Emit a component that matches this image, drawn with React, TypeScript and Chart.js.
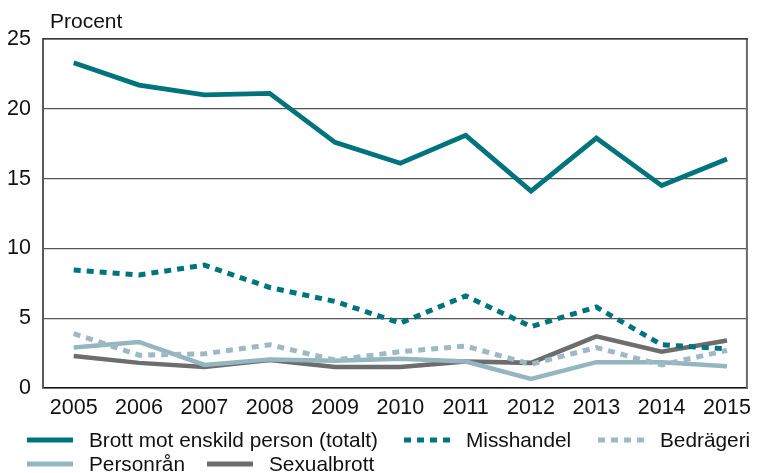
import React, { useEffect, useRef } from "react";
import { Chart, registerables } from "chart.js";

Chart.register(...registerables);

const years = [2005, 2006, 2007, 2008, 2009, 2010, 2011, 2012, 2013, 2014, 2015];
const totalt = [23.3, 21.7, 21.0, 21.1, 17.6, 16.1, 18.1, 14.1, 17.9, 14.5, 16.4];
const misshandel = [8.45, 8.1, 8.8, 7.2, 6.2, 4.65, 6.6, 4.4, 5.8, 3.1, 2.8];
const bedrageri = [3.9, 2.35, 2.45, 3.1, 2.0, 2.6, 3.0, 1.7, 2.9, 1.65, 2.7];
const personran = [2.9, 3.3, 1.65, 2.05, 1.95, 2.1, 1.9, 0.65, 1.85, 1.85, 1.55];
const sexualbrott = [2.3, 1.8, 1.5, 2.0, 1.5, 1.5, 1.9, 1.8, 3.7, 2.6, 3.4];
const yTicks = [0, 5, 10, 15, 20, 25];

const TEAL = "#00747d";
const LIGHT = "#93b6c0";
const LIGHT_DOT = "#9dbac4";
const GRAY = "#6d6d6d";
const FONT = "'Liberation Sans', Arial, Helvetica, sans-serif";

const series = [
  { label: "Brott mot enskild person (totalt)", data: totalt, color: TEAL, dash: [] as number[], width: 4.8 },
  { label: "Misshandel", data: misshandel, color: TEAL, dash: [7, 6], width: 5 },
  { label: "Bedrägeri", data: bedrageri, color: LIGHT_DOT, dash: [7, 6], width: 5 },
  { label: "Personrån", data: personran, color: LIGHT, dash: [] as number[], width: 4.5 },
  { label: "Sexualbrott", data: sexualbrott, color: GRAY, dash: [] as number[], width: 4.5 },
];

const legendPos = [
  { left: 27, top: 428 },
  { left: 404, top: 428 },
  { left: 598, top: 428 },
  { left: 27, top: 452 },
  { left: 207, top: 452 },
];

const framePlugin = {
  id: "frame",
  beforeDatasetsDraw(chart: any) {
    const { ctx, chartArea } = chart;
    ctx.save();
    ctx.strokeStyle = "#6a6a6a";
    ctx.lineWidth = 2;
    ctx.beginPath();
    ctx.moveTo(chartArea.right - 1, chartArea.top);
    ctx.lineTo(chartArea.right - 1, chartArea.bottom);
    ctx.stroke();
    ctx.strokeStyle = "#222";
    ctx.lineWidth = 1.2;
    ctx.beginPath();
    ctx.moveTo(chartArea.left, chartArea.top);
    ctx.lineTo(chartArea.right, chartArea.top);
    ctx.stroke();
    ctx.restore();
  },
  afterDraw(chart: any) {
    const { ctx } = chart;
    ctx.save();
    ctx.fillStyle = "#111";
    ctx.font = `21px ${FONT}`;
    ctx.textBaseline = "middle";
    ctx.textAlign = "left";
    ctx.fillText("Procent", 50, 22);
    ctx.restore();
  },
};

export default function App() {
  const ref = useRef<HTMLCanvasElement | null>(null);

  useEffect(() => {
    if (!ref.current) return;
    const chart = new Chart(ref.current, {
      type: "line",
      data: {
        datasets: series.map((s) => ({
          label: s.label,
          data: s.data.map((v, i) => ({ x: years[i], y: v })),
          borderColor: s.color,
          backgroundColor: s.color,
          borderWidth: s.width,
          borderDash: s.dash,
          pointRadius: 0,
          tension: 0,
          fill: false,
        })),
      },
      options: {
        animation: false,
        responsive: false,
        devicePixelRatio: 1,
        layout: { padding: { top: 39, right: 3, left: 0, bottom: 0 } },
        plugins: { legend: { display: false }, tooltip: { enabled: false } },
        scales: {
          x: {
            type: "linear",
            min: 2004.53,
            max: 2015.32,
            afterBuildTicks: (s: any) => {
              s.ticks = years.map((v) => ({ value: v }));
            },
            afterFit: (s: any) => {
              s.height = 85;
            },
            grid: { display: false, drawTicks: false },
            border: { display: true, color: "#111", width: 1.5 },
            ticks: {
              color: "#111",
              padding: 7,
              maxRotation: 0,
              autoSkip: false,
              font: { family: FONT, size: 21.5 },
              callback: (v: any) => String(v),
            },
          },
          y: {
            min: 0,
            max: 25,
            afterBuildTicks: (s: any) => {
              s.ticks = yTicks.map((v) => ({ value: v }));
            },
            afterFit: (s: any) => {
              s.width = 43;
            },
            grid: { color: "#555", lineWidth: 1.2, drawTicks: false },
            border: { display: true, color: "#5a5a5a", width: 2 },
            ticks: {
              color: "#111",
              padding: 12,
              font: { family: FONT, size: 21.5 },
            },
          },
        },
      },
      plugins: [framePlugin],
    });
    return () => chart.destroy();
  }, []);

  return (
    <div style={{ position: "absolute", left: 0, top: 0, width: 758, height: 473, background: "#fff", fontFamily: FONT }}>
      <canvas ref={ref} width={758} height={473} style={{ width: 758, height: 473, display: "block" }} />
      {series.map((s, i) => (
        <div
          key={s.label}
          style={{
            position: "absolute",
            left: legendPos[i].left,
            top: legendPos[i].top,
            height: 24,
            display: "flex",
            alignItems: "center",
            whiteSpace: "nowrap",
            fontSize: 20.8,
            lineHeight: "24px",
            color: "#111",
          }}
        >
          <svg width={46} height={8} style={{ marginRight: 16, display: "block" }}>
            <line
              x1={0}
              y1={4}
              x2={46}
              y2={4}
              stroke={s.color}
              strokeWidth={5}
              strokeDasharray={s.dash.length ? s.dash.join(" ") : undefined}
              strokeLinecap={s.dash.length ? "butt" : "round"}
            />
          </svg>
          <span>{s.label}</span>
        </div>
      ))}
    </div>
  );
}
